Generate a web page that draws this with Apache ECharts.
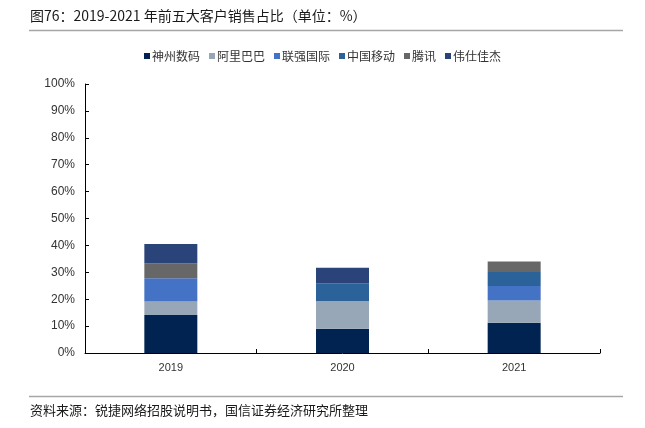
<!DOCTYPE html>
<html>
<head>
<meta charset="utf-8">
<script src="https://cdn.jsdelivr.net/npm/echarts@6/dist/echarts.min.js"></script>
<style>
html,body{margin:0;padding:0;background:#fff;}
#c{width:645px;height:428px;}
</style>
</head>
<body>
<div id="c"></div>
<script>
var categories = ['2019', '2020', '2021'];
var seriesNames = ['神州数码', '阿里巴巴', '联强国际', '中国移动', '腾讯', '伟仕佳杰'];
var shenzhou = [14.1, 9.0, 11.2];
var alibaba = [5.0, 10.3, 8.3];
var lianqiang = [8.7, 0, 5.4];
var chinaMobile = [0, 6.6, 5.2];
var tencent = [5.6, 0, 3.9];
var weishi = [7.1, 5.8, 0];
var yTicks = [0, 10, 20, 30, 40, 50, 60, 70, 80, 90, 100];

var colors = ['#002352', '#98A7B8', '#4472C4', '#2A6299', '#676767', '#2A4479'];
var values = [shenzhou, alibaba, lianqiang, chinaMobile, tencent, weishi];

var chart = echarts.init(document.getElementById('c'), null, {renderer: 'canvas'});
var cjk = '"Noto Sans CJK SC", sans-serif';
var latin = '"Liberation Sans", Arial, sans-serif';

var series = seriesNames.map(function (n, i) {
  return {
    name: n,
    type: 'bar',
    stack: 'total',
    barWidth: 53,
    data: values[i],
    itemStyle: {color: colors[i]},
    emphasis: {disabled: true}
  };
});

chart.setOption({
  animation: false,
  backgroundColor: '#fff',
  color: colors,
  graphic: [
    {type: 'text', left: 30, top: 9, style: {text: '图76：2019-2021 年前五大客户销售占比（单位：%）', fill: '#1a1a1a', font: '14px ' + cjk}},
    {type: 'line', shape: {x1: 29, y1: 30.5, x2: 623, y2: 30.5}, style: {stroke: '#a6a6a6', lineWidth: 1.5}},
    {type: 'line', shape: {x1: 29, y1: 396.5, x2: 623, y2: 396.5}, style: {stroke: '#a6a6a6', lineWidth: 1.5}},
    {type: 'text', left: 30, top: 404, style: {text: '资料来源：锐捷网络招股说明书，国信证券经济研究所整理', fill: '#1a1a1a', font: '13px ' + cjk}}
  ],
  legend: {
    top: 45,
    left: 'center',
    itemWidth: 6,
    itemHeight: 6,
    itemGap: 9,
    icon: 'rect',
    textStyle: {fontFamily: cjk, fontSize: 12, color: '#333', padding: [0, 0, 0, -3]},
    data: seriesNames
  },
  grid: {left: 85, right: 45, top: 84, bottom: 75, containLabel: false},
  xAxis: {
    type: 'category',
    data: categories,
    axisLine: {lineStyle: {color: '#000', width: 1}},
    axisTick: {show: true, inside: true, length: 4, lineStyle: {color: '#000'}},
    axisLabel: {fontFamily: latin, fontSize: 11, color: '#333', margin: 9}
  },
  yAxis: {
    type: 'value',
    min: yTicks[0],
    max: yTicks[yTicks.length - 1],
    interval: yTicks[1] - yTicks[0],
    axisLine: {show: true, lineStyle: {color: '#000', width: 1}},
    axisTick: {show: true, inside: true, length: 4, lineStyle: {color: '#000'}},
    splitLine: {show: false},
    axisLabel: {formatter: '{value}%', fontFamily: latin, fontSize: 12, color: '#333', margin: 10}
  },
  series: series
});
</script>
</body>
</html>
